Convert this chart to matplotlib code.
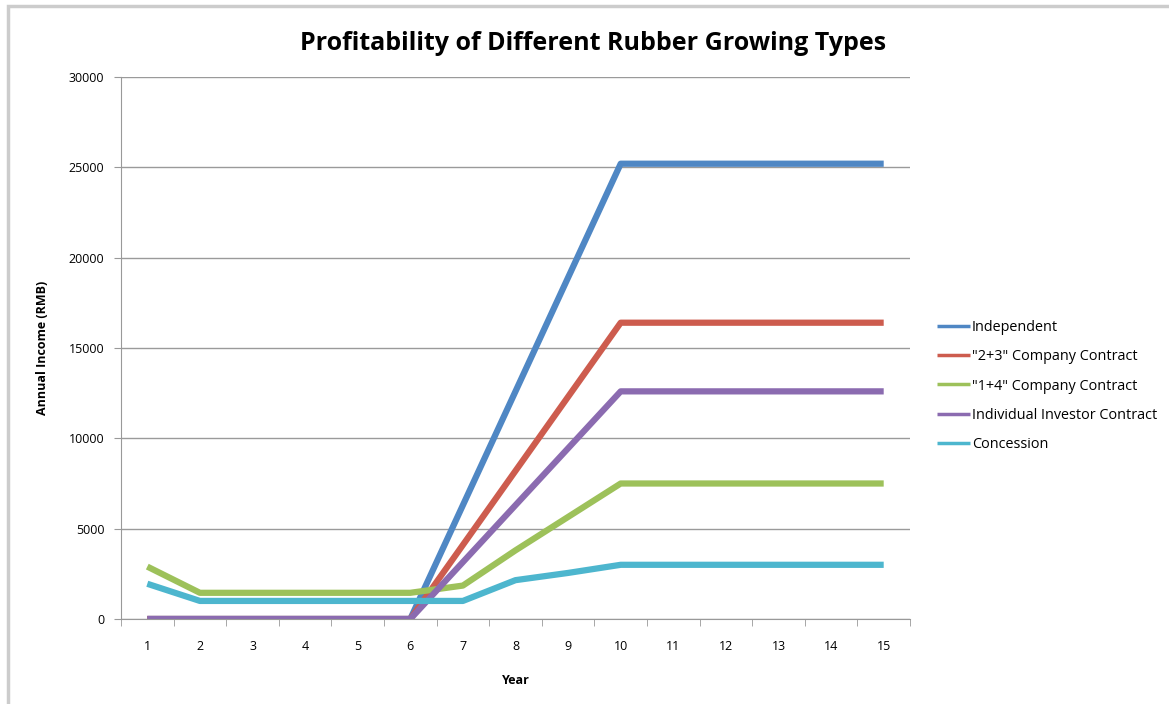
import matplotlib.pyplot as plt
import matplotlib.patches as mpatches
import numpy as np

# === DATA ===
years = list(range(1, 16))
independent = [0, 0, 0, 0, 0, 0, 6300, 12600, 18900, 25200, 25200, 25200, 25200, 25200, 25200]
company_23 = [0, 0, 0, 0, 0, 0, 4100, 8200, 12300, 16400, 16400, 16400, 16400, 16400, 16400]
company_14 = [2900, 1450, 1450, 1450, 1450, 1450, 1850, 3800, 5650, 7500, 7500, 7500, 7500, 7500, 7500]
investor = [0, 0, 0, 0, 0, 0, 3150, 6300, 9450, 12600, 12600, 12600, 12600, 12600, 12600]
concession = [1950, 1000, 1000, 1000, 1000, 1000, 1000, 2150, 2550, 3000, 3000, 3000, 3000, 3000, 3000]

series = [
    ('Independent', independent, '#4F87C4'),
    ('"2+3" Company Contract', company_23, '#CD5C4E'),
    ('"1+4" Company Contract', company_14, '#9DC15A'),
    ('Individual Investor Contract', investor, '#8B6BB0'),
    ('Concession', concession, '#4DB6CE'),
]

plt.rcParams['font.family'] = ['Open Sans', 'DejaVu Sans']

fig = plt.figure(figsize=(11.69, 7.04), dpi=100)
ax = fig.add_axes([121 / 1169, 1 - 619 / 704, (910 - 121) / 1169, (619 - 77) / 704])

for name, vals, col in series:
    ax.plot(years, vals, color=col, lw=4.5, label=name, solid_capstyle='butt')

ax.set_xlim(0.5, 15.5)
ax.set_ylim(0, 30000)
ax.set_yticks(np.arange(0, 30001, 5000))
ax.set_xticks(years)
ax.set_xticks(np.arange(0.5, 15.6, 1), minor=True)
ax.tick_params(axis='x', which='major', length=0, pad=15, labelsize=9)
ax.tick_params(axis='x', which='minor', length=5, color='#999999', direction='out')
ax.tick_params(axis='y', length=5, color='#999999', direction='out', labelsize=9, pad=7)
ax.grid(axis='y', color='#9a9a9a', lw=1)
ax.set_axisbelow(True)
for s in ['top', 'right']:
    ax.spines[s].set_visible(False)
for s in ['left', 'bottom']:
    ax.spines[s].set_color('#999999')

ax.set_xlabel('Year', fontsize=9, fontweight='bold', labelpad=15)
ax.set_ylabel('Annual Income (RMB)', fontsize=9, fontweight='bold', labelpad=14)

fig.text(593 / 1169, 1 - 43 / 704, 'Profitability of Different Rubber Growing Types',
         ha='center', va='center', fontsize=18, fontweight='bold')

leg = ax.legend(loc='center left', bbox_to_anchor=(930 / 1169, 1 - 386 / 704),
                bbox_transform=fig.transFigure, frameon=False, fontsize=10.4,
                handlelength=2.3, handletextpad=0.1, labelspacing=1.0, borderpad=0)
for line in leg.get_lines():
    line.set_linewidth(2.5)

# chart border
fig.patches.append(mpatches.Rectangle((8 / 1169, -0.1), 1.2, 1 - 6 / 704 + 0.1,
                                      transform=fig.transFigure, fill=False,
                                      edgecolor='#cccccc', lw=2.5))

fig.savefig('out.png', dpi=100)
